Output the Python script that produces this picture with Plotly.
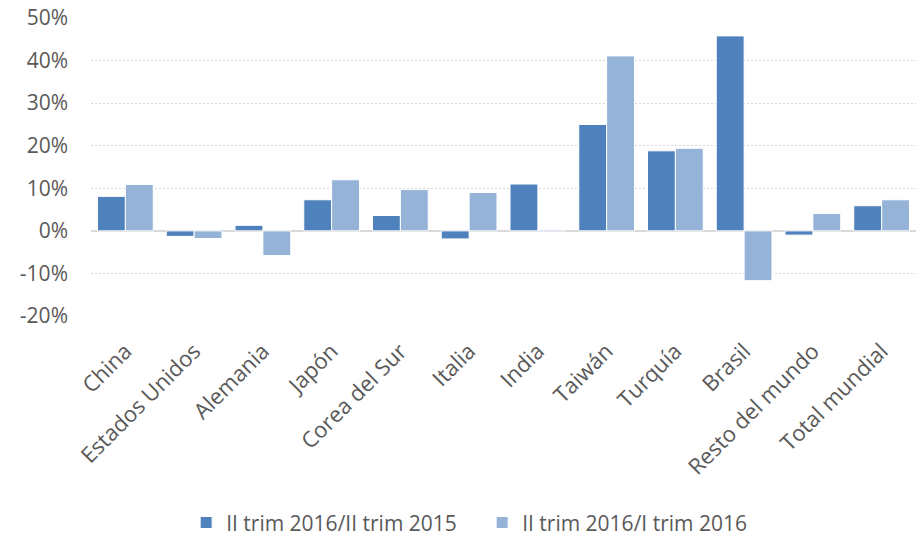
import plotly.graph_objects as go

categories = ["China", "Estados Unidos", "Alemania", "Japón", "Corea del Sur", "Italia",
              "India", "Taiwán", "Turquía", "Brasil", "Resto del mundo", "Total mundial"]
yoy_q2 = [8.1, -1.3, 1.3, 7.3, 3.6, -1.9, 11.0, 25.0, 18.8, 45.8, -1.0, 5.9]
qoq_q2 = [10.9, -1.8, -5.8, 12.0, 9.7, 9.0, 0.3, 41.1, 19.4, -11.7, 4.1, 7.3]
tick_vals = [-20, -10, 0, 10, 20, 30, 40, 50]
tick_text = ["-20%", "-10%", "0%", "10%", "20%", "30%", "40%", "50%"]

text_color = "#595959"
font_family = "Open Sans"

fig = go.Figure()
fig.add_trace(go.Bar(x=categories, y=yoy_q2, name="II trim 2016/II trim 2015",
                     marker=dict(color="#4F81BD", line=dict(color="white", width=1))))
fig.add_trace(go.Bar(x=categories, y=qoq_q2, name="II trim 2016/I trim 2016",
                     marker=dict(color="#95B3D7", line=dict(color="white", width=1))))

fig.update_layout(
    width=917, height=539,
    margin=dict(l=91, r=1, t=18, b=223),
    plot_bgcolor="white", paper_bgcolor="white",
    barmode="group", bargap=0.19, bargroupgap=0,
    font=dict(family=font_family, color=text_color, size=20),
    legend=dict(orientation="h", xref="container", yref="container",
                x=0.203, xanchor="left", y=0.03, yanchor="middle",
                font=dict(size=21, color=text_color), itemwidth=30,
                entrywidth=251, entrywidthmode="pixels",
                traceorder="normal"),
)
fig.update_yaxes(range=[-20, 50], tickvals=tick_vals, ticktext=tick_text,
                 showgrid=True, gridcolor="#D9D9D9", griddash="2px,2px", gridwidth=1,
                 zeroline=True, zerolinecolor="#D9D9D9", zerolinewidth=2,
                 showline=False, ticklabelstandoff=22,
                 tickfont=dict(size=21, color=text_color))
fig.update_xaxes(tickangle=-45, showgrid=False, showline=False, zeroline=False,
                 ticklabelstandoff=17, tickfont=dict(size=22, color=text_color))

fig.write_html("out.html")
